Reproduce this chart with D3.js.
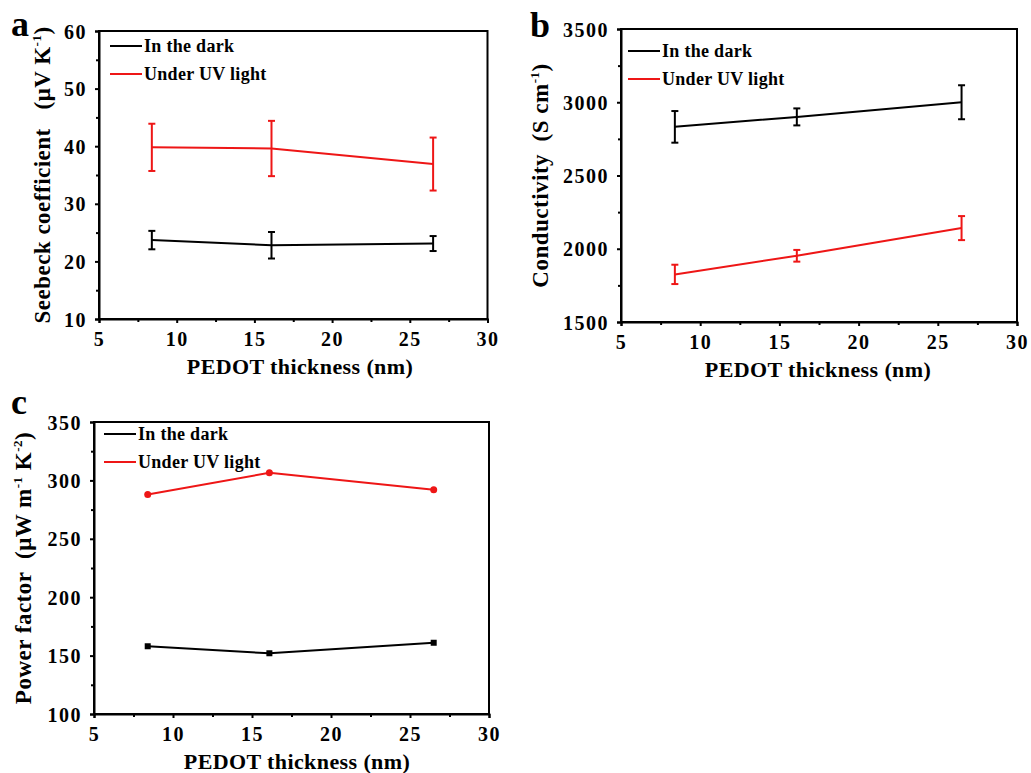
<!DOCTYPE html>
<html>
<head>
<meta charset="utf-8">
<script src="https://cdn.jsdelivr.net/npm/d3@7"></script>
<style>
html,body{margin:0;padding:0;background:#fff;}
svg{display:block;font-family:"Liberation Serif","Times New Roman",serif;font-weight:bold;}
</style>
</head>
<body>
<svg id="chart" width="1031" height="773"></svg>
<script>
// ---- data ----
const thickness = [8.4, 16.1, 26.5];
const seriesNames = ["In the dark", "Under UV light"];
const seebeckDark = [23.7, 22.8, 23.1];
const seebeckDarkErr = [1.6, 2.3, 1.3];
const seebeckUV = [39.8, 39.6, 36.9];
const seebeckUVErr = [4.1, 4.8, 4.6];
const condDark = [2832, 2900, 3000];
const condDarkErr = [108, 58, 116];
const condUV = [1825, 1952, 2141];
const condUVErr = [66, 40, 82];
const pfDark = [158, 152, 161];
const pfUV = [288, 306.5, 292];
const xTicks = [5, 10, 15, 20, 25, 30];
const seebeckTicks = [10, 20, 30, 40, 50, 60];
const condTicks = [1500, 2000, 2500, 3000, 3500];
const pfTicks = [100, 150, 200, 250, 300, 350];

const colors = ["#000000", "#ee1616"];
const svg = d3.select("#chart");

function panel(cfg) {
  const g = svg.append("g");
  const x = d3.scaleLinear().domain([5, 30]).range([cfg.l, cfg.r]);
  const y = d3.scaleLinear().domain(cfg.yDomain).range([cfg.b, cfg.t]);

  const xMinor = d3.range(7.5, 30, 5);
  const yStep = cfg.yTicks[1] - cfg.yTicks[0];
  const yMinor = cfg.yTicks.slice(0, -1).map(v => v + yStep / 2);

  const xAxis = g.append("g").attr("transform", `translate(0,${cfg.b})`)
    .call(d3.axisBottom(x).tickValues(xTicks).tickSize(4).tickPadding(6).tickFormat(d3.format("d")));
  g.append("g").attr("transform", `translate(0,${cfg.b})`)
    .call(d3.axisBottom(x).tickValues(xMinor).tickSize(3).tickFormat(""))
    .call(a => a.select(".domain").remove());
  const yAxis = g.append("g").attr("transform", `translate(${cfg.l},0)`)
    .call(d3.axisLeft(y).tickValues(cfg.yTicks).tickSize(4).tickPadding(8).tickFormat(d3.format("d")));
  g.append("g").attr("transform", `translate(${cfg.l},0)`)
    .call(d3.axisLeft(y).tickValues(yMinor).tickSize(3).tickFormat(""))
    .call(a => a.select(".domain").remove());

  g.selectAll(".tick line").attr("stroke", "#000").attr("stroke-width", 2);
  g.selectAll(".domain").attr("stroke", "#000").attr("stroke-width", 2);
  g.selectAll(".tick text").attr("font-family", "Liberation Serif, serif")
    .attr("font-weight", "bold").attr("font-size", 20).attr("letter-spacing", 1.5).attr("fill", "#000");
  xAxis.selectAll(".tick text").attr("dy", "0.85em");
  yAxis.selectAll(".tick text").attr("dy", "0.35em");

  g.append("rect").attr("x", cfg.l).attr("y", cfg.t)
    .attr("width", cfg.r - cfg.l).attr("height", cfg.b - cfg.t)
    .attr("fill", "none").attr("stroke", "#000").attr("stroke-width", 2);

  const line = d3.line().x((d, i) => x(thickness[i])).y(d => y(d));
  cfg.series.forEach((s, k) => {
    const col = colors[k];
    g.append("path").datum(s.v).attr("d", line).attr("fill", "none")
      .attr("stroke", col).attr("stroke-width", 2);
    if (s.e) {
      s.v.forEach((v, i) => {
        const cx = x(thickness[i]);
        const y1 = y(v + s.e[i]), y2 = y(v - s.e[i]);
        g.append("line").attr("x1", cx).attr("x2", cx).attr("y1", y1).attr("y2", y2)
          .attr("stroke", col).attr("stroke-width", 2);
        [y1, y2].forEach(yy => g.append("line").attr("x1", cx - 3.5).attr("x2", cx + 3.5)
          .attr("y1", yy).attr("y2", yy).attr("stroke", col).attr("stroke-width", 2));
      });
    }
    if (s.marker === "square") {
      g.selectAll(null).data(s.v).enter().append("rect")
        .attr("x", (d, i) => x(thickness[i]) - 3).attr("y", d => y(d) - 3)
        .attr("width", 6).attr("height", 6).attr("fill", col);
    } else if (s.marker === "circle") {
      g.selectAll(null).data(s.v).enter().append("circle")
        .attr("cx", (d, i) => x(thickness[i])).attr("cy", d => y(d))
        .attr("r", 3.5).attr("fill", col);
    }
  });

  seriesNames.forEach((n, k) => {
    const ly = cfg.legY + k * 28;
    g.append("line").attr("x1", cfg.legX).attr("x2", cfg.legX + 32)
      .attr("y1", ly).attr("y2", ly).attr("stroke", colors[k]).attr("stroke-width", 2);
    g.append("text").attr("x", cfg.legX + 34).attr("y", ly + 6)
      .attr("font-size", 18).attr("letter-spacing", 0.3).attr("fill", "#000").text(n);
  });

  g.append("text").attr("x", cfg.xtX).attr("y", cfg.b + 55)
    .attr("text-anchor", "middle").attr("font-size", 22).attr("letter-spacing", 0.4)
    .text("PEDOT thickness (nm)");

  const yt = g.append("text")
    .attr("transform", `translate(${cfg.ytX},${(cfg.t + cfg.b) / 2}) rotate(-90)`)
    .attr("text-anchor", "middle").attr("font-size", 23).attr("letter-spacing", 0.5);
  cfg.yTitle(yt);

  g.append("text").attr("x", cfg.letX).attr("y", cfg.letY)
    .attr("font-size", 36).text(cfg.letter);
}

function sup(t, s) {
  t.append("tspan").attr("dy", -9).attr("font-size", 13).text(s);
}

panel({
  l: 99, r: 487.5, t: 31, b: 319, yDomain: [10, 60], yTicks: seebeckTicks,
  series: [{ v: seebeckDark, e: seebeckDarkErr }, { v: seebeckUV, e: seebeckUVErr }],
  legX: 110, legY: 46, xtX: 300, ytX: 50, letX: 11, letY: 36, letter: "a",
  yTitle: t => {
    t.append("tspan").text("Seebeck coefficient\u00A0\u00A0 (\u03BCV K");
    sup(t, "-1");
    t.append("tspan").attr("dy", 9).text(")");
  }
});

panel({
  l: 621, r: 1017, t: 29, b: 322, yDomain: [1500, 3500], yTicks: condTicks,
  series: [{ v: condDark, e: condDarkErr }, { v: condUV, e: condUVErr }],
  legX: 628, legY: 51, xtX: 818, ytX: 548, letX: 530, letY: 37, letter: "b",
  yTitle: t => {
    t.append("tspan").text("Conductivity\u00A0 (S cm");
    sup(t, "-1");
    t.append("tspan").attr("dy", 9).text(")");
  }
});

panel({
  l: 94, r: 489, t: 422, b: 714, yDomain: [100, 350], yTicks: pfTicks,
  series: [{ v: pfDark, marker: "square" }, { v: pfUV, marker: "circle" }],
  legX: 104, legY: 434, xtX: 297, ytX: 31, letX: 11, letY: 414, letter: "c",
  yTitle: t => {
    t.append("tspan").text("Power factor\u00A0 (\u03BCW m");
    sup(t, "-1");
    t.append("tspan").attr("dy", 9).text(" K");
    sup(t, "-2");
    t.append("tspan").attr("dy", 9).text(")");
  }
});
</script>
</body>
</html>
